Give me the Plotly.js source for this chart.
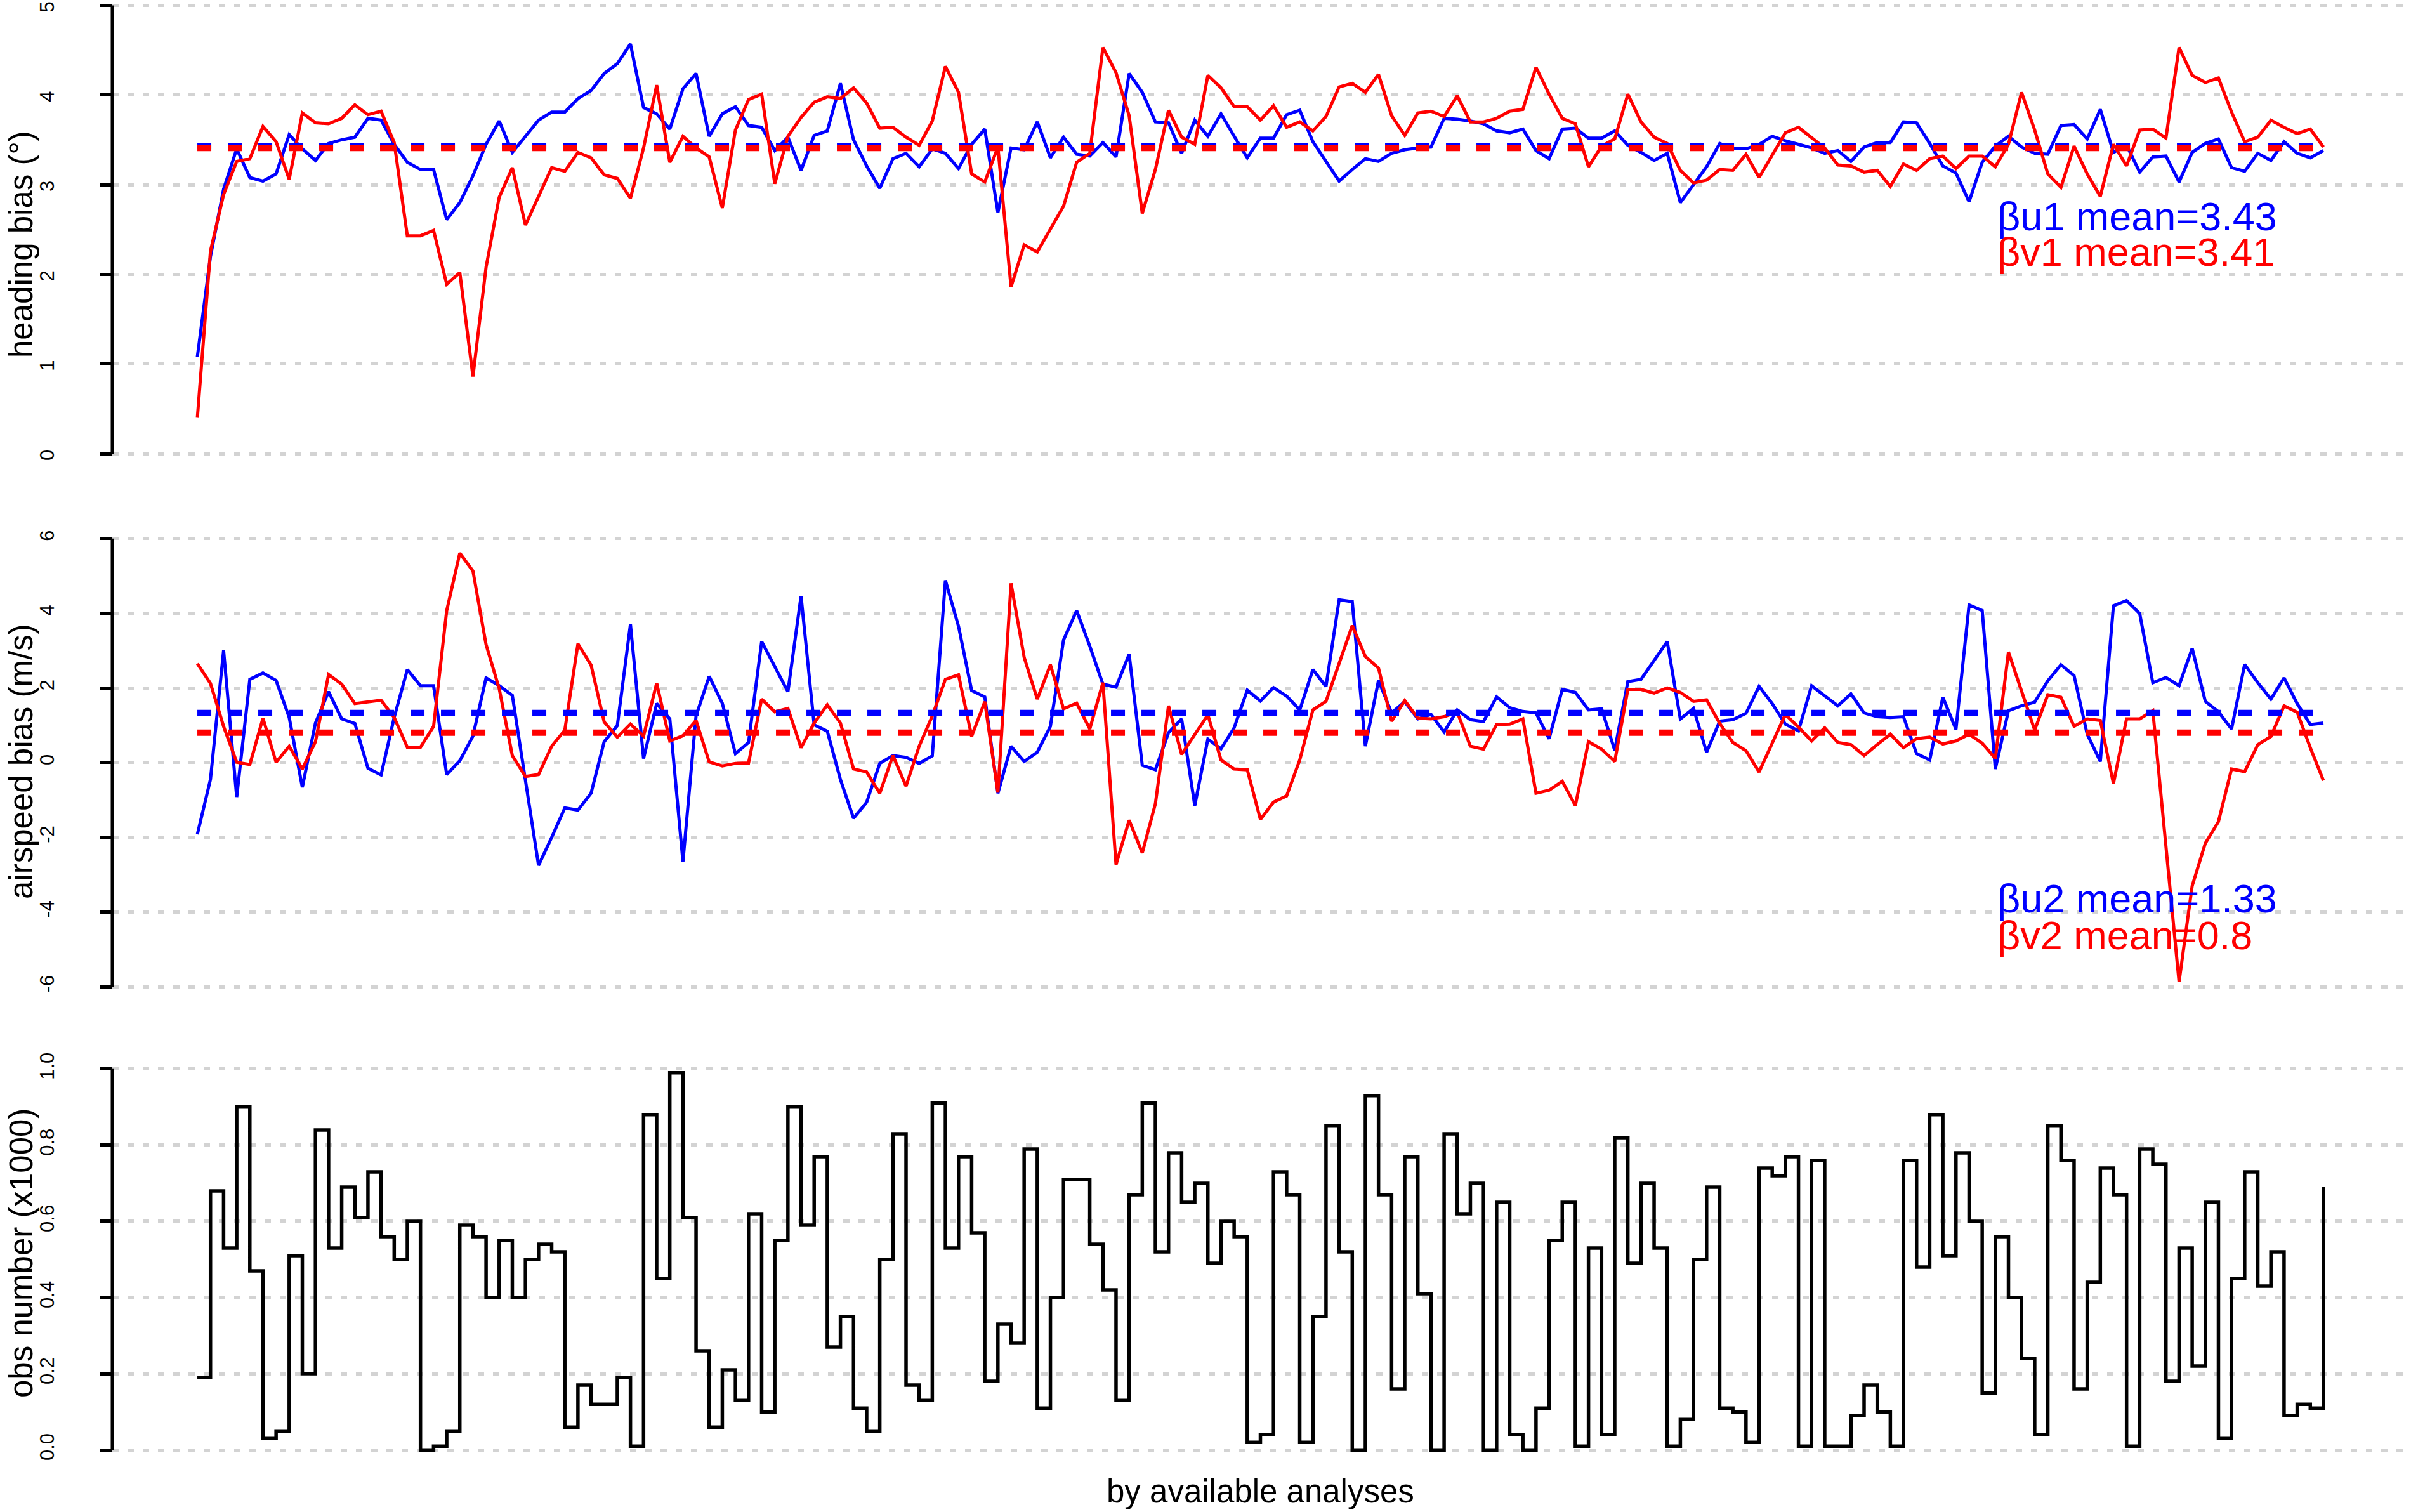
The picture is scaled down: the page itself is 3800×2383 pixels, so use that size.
<!DOCTYPE html>
<html>
<head>
<meta charset="utf-8">
<script src="https://cdn.plot.ly/plotly-3.0.1.min.js"></script>
<style>
  html, body { margin: 0; padding: 0; background: #fff; }
  #chart { width: 3800px; height: 2383px; }
</style>
</head>
<body>
<div id="chart"></div>
<script>
// heading bias (deg), one value per analysis
const hdgU = [1.08, 2.20, 2.95, 3.40, 3.08, 3.04, 3.12, 3.56, 3.40, 3.27, 3.46, 3.50, 3.53, 3.74, 3.72, 3.45, 3.25, 3.17, 3.17, 2.61,
  2.80, 3.10, 3.45, 3.71, 3.36, 3.54, 3.72, 3.81, 3.81, 3.96, 4.05, 4.24, 4.35, 4.57, 3.86, 3.79, 3.62, 4.07, 4.24, 3.54,
  3.79, 3.87, 3.66, 3.64, 3.38, 3.53, 3.16, 3.55, 3.60, 4.13, 3.50, 3.21, 2.96, 3.29, 3.35, 3.20, 3.40, 3.35, 3.18, 3.45,
  3.62, 2.69, 3.41, 3.39, 3.70, 3.30, 3.53, 3.34, 3.32, 3.47, 3.31, 4.24, 4.03, 3.70, 3.69, 3.35, 3.72, 3.54, 3.79, 3.54,
  3.30, 3.52, 3.52, 3.78, 3.83, 3.48, 3.26, 3.04, 3.17, 3.29, 3.26, 3.35, 3.39, 3.41, 3.42, 3.74, 3.73, 3.71, 3.68, 3.60,
  3.58, 3.62, 3.38, 3.29, 3.62, 3.63, 3.52, 3.52, 3.60, 3.44, 3.36, 3.27, 3.35, 2.80, 3.00, 3.20, 3.46, 3.40, 3.40, 3.45,
  3.54, 3.49, 3.45, 3.41, 3.35, 3.38, 3.26, 3.42, 3.47, 3.47, 3.70, 3.69, 3.46, 3.21, 3.13, 2.81, 3.25, 3.43, 3.54, 3.42,
  3.35, 3.34, 3.66, 3.67, 3.51, 3.84, 3.36, 3.44, 3.14, 3.31, 3.32, 3.03, 3.36, 3.46, 3.51, 3.19, 3.15, 3.35, 3.27, 3.48,
  3.35, 3.30, 3.38];
const hdgV = [0.40, 2.26, 2.89, 3.26, 3.29, 3.65, 3.48, 3.06, 3.80, 3.69, 3.68, 3.74, 3.89, 3.78, 3.82, 3.47, 2.43, 2.43, 2.49, 1.89,
  2.02, 0.86, 2.08, 2.86, 3.19, 2.55, 2.87, 3.19, 3.15, 3.36, 3.30, 3.11, 3.07, 2.85, 3.41, 4.11, 3.25, 3.54, 3.41, 3.31,
  2.74, 3.61, 3.95, 4.01, 3.01, 3.54, 3.75, 3.92, 3.98, 3.96, 4.08, 3.91, 3.63, 3.64, 3.53, 3.44, 3.71, 4.32, 4.03, 3.12,
  3.03, 3.42, 1.86, 2.33, 2.25, 2.51, 2.76, 3.25, 3.35, 4.53, 4.25, 3.77, 2.68, 3.17, 3.83, 3.53, 3.45, 4.22, 4.08, 3.87,
  3.87, 3.72, 3.88, 3.64, 3.70, 3.60, 3.76, 4.09, 4.13, 4.03, 4.23, 3.77, 3.55, 3.80, 3.82, 3.76, 3.99, 3.70, 3.70, 3.74,
  3.82, 3.84, 4.31, 4.01, 3.74, 3.68, 3.20, 3.43, 3.51, 4.01, 3.70, 3.53, 3.46, 3.16, 3.02, 3.05, 3.17, 3.16, 3.34, 3.08,
  3.33, 3.58, 3.64, 3.53, 3.41, 3.22, 3.21, 3.14, 3.16, 2.98, 3.23, 3.16, 3.29, 3.32, 3.18, 3.32, 3.32, 3.20, 3.45, 4.03,
  3.61, 3.12, 2.97, 3.43, 3.12, 2.87, 3.45, 3.21, 3.61, 3.62, 3.52, 4.53, 4.22, 4.14, 4.19, 3.81, 3.48, 3.53, 3.72, 3.64,
  3.57, 3.62, 3.42];

// airspeed bias (m/s)
const spdU = [-1.92, -0.45, 3.00, -0.92, 2.23, 2.40, 2.20, 1.21, -0.66, 1.06, 1.90, 1.17, 1.05, -0.15, -0.33, 1.21, 2.49, 2.06, 2.06, -0.32,
  0.05, 0.71, 2.27, 2.06, 1.80, -0.50, -2.75, -2.00, -1.21, -1.27, -0.82, 0.56, 0.99, 3.70, 0.11, 1.58, 1.17, -2.65, 1.25, 2.31,
  1.59, 0.24, 0.54, 3.24, 2.55, 1.90, 4.46, 1.01, 0.84, -0.45, -1.49, -1.06, -0.02, 0.19, 0.14, -0.02, 0.18, 4.88, 3.65, 1.93,
  1.76, -0.82, 0.44, 0.03, 0.28, 0.97, 3.28, 4.07, 3.12, 2.10, 2.02, 2.90, -0.07, -0.19, 0.80, 1.17, -1.15, 0.63, 0.37, 0.93,
  1.94, 1.65, 2.01, 1.78, 1.41, 2.49, 2.04, 4.36, 4.31, 0.44, 2.20, 1.33, 1.63, 1.17, 1.29, 0.82, 1.41, 1.15, 1.10, 1.76,
  1.47, 1.37, 1.33, 0.64, 1.96, 1.88, 1.41, 1.44, 0.33, 2.17, 2.23, 2.74, 3.24, 1.17, 1.45, 0.28, 1.11, 1.15, 1.32, 2.04,
  1.58, 1.03, 0.85, 2.06, 1.78, 1.52, 1.84, 1.33, 1.23, 1.21, 1.23, 0.24, 0.07, 1.75, 0.89, 4.22, 4.07, -0.17, 1.39, 1.52,
  1.62, 2.19, 2.62, 2.33, 0.76, 0.03, 4.20, 4.34, 3.99, 2.14, 2.28, 2.06, 3.06, 1.64, 1.36, 0.90, 2.63, 2.14, 1.70, 2.27,
  1.58, 1.02, 1.06];
const spdV = [2.65, 2.12, 0.97, 0.01, -0.05, 1.19, 0.01, 0.44, -0.17, 0.56, 2.36, 2.10, 1.58, 1.63, 1.67, 1.21, 0.41, 0.41, 0.97, 4.07,
  5.61, 5.13, 3.16, 1.98, 0.19, -0.37, -0.32, 0.44, 0.87, 3.18, 2.61, 1.09, 0.68, 1.03, 0.71, 2.13, 0.58, 0.72, 1.13, 0.02,
  -0.09, -0.02, -0.01, 1.70, 1.36, 1.45, 0.40, 1.06, 1.55, 1.06, -0.17, -0.25, -0.82, 0.19, -0.63, 0.44, 1.25, 2.23, 2.35, 0.70,
  1.63, -0.80, 4.80, 2.82, 1.70, 2.62, 1.44, 1.59, 0.90, 2.14, -2.73, -1.54, -2.42, -1.10, 1.52, 0.22, 0.76, 1.28, 0.07, -0.17,
  -0.19, -1.52, -1.06, -0.89, 0.07, 1.41, 1.64, 2.66, 3.67, 2.84, 2.53, 1.11, 1.66, 1.19, 1.17, 1.23, 1.35, 0.44, 0.36, 1.02,
  1.03, 1.17, -0.82, -0.74, -0.50, -1.15, 0.56, 0.36, 0.03, 1.96, 1.96, 1.86, 2.00, 1.88, 1.64, 1.68, 1.05, 0.54, 0.32, -0.25,
  0.52, 1.29, 0.95, 0.58, 0.93, 0.54, 0.48, 0.19, 0.48, 0.76, 0.40, 0.64, 0.68, 0.50, 0.58, 0.76, 0.52, 0.11, 2.96, 1.90,
  0.87, 1.82, 1.75, 0.97, 1.17, 1.13, -0.56, 1.17, 1.17, 1.39, -2.30, -5.87, -3.30, -2.16, -1.58, -0.17, -0.24, 0.48, 0.70, 1.52,
  1.35, 0.40, -0.48];

// obs number (x1000)
const obsN = [0.19, 0.68, 0.53, 0.90, 0.47, 0.03, 0.05, 0.51, 0.20, 0.84, 0.53, 0.69, 0.61, 0.73, 0.56, 0.50, 0.60, 0.00, 0.01, 0.05,
  0.59, 0.56, 0.40, 0.55, 0.40, 0.50, 0.54, 0.52, 0.06, 0.17, 0.12, 0.12, 0.19, 0.01, 0.88, 0.45, 0.99, 0.61, 0.26, 0.06,
  0.21, 0.13, 0.62, 0.10, 0.55, 0.90, 0.59, 0.77, 0.27, 0.35, 0.11, 0.05, 0.50, 0.83, 0.17, 0.13, 0.91, 0.53, 0.77, 0.57,
  0.18, 0.33, 0.28, 0.79, 0.11, 0.40, 0.71, 0.71, 0.54, 0.42, 0.13, 0.67, 0.91, 0.52, 0.78, 0.65, 0.70, 0.49, 0.60, 0.56,
  0.02, 0.04, 0.73, 0.67, 0.02, 0.35, 0.85, 0.52, 0.00, 0.93, 0.67, 0.16, 0.77, 0.41, 0.00, 0.83, 0.62, 0.70, 0.00, 0.65,
  0.04, 0.00, 0.11, 0.55, 0.65, 0.01, 0.53, 0.04, 0.82, 0.49, 0.70, 0.53, 0.01, 0.08, 0.50, 0.69, 0.11, 0.10, 0.02, 0.74,
  0.72, 0.77, 0.01, 0.76, 0.01, 0.01, 0.09, 0.17, 0.10, 0.01, 0.76, 0.48, 0.88, 0.51, 0.78, 0.60, 0.15, 0.56, 0.40, 0.24,
  0.04, 0.85, 0.76, 0.16, 0.44, 0.74, 0.67, 0.01, 0.79, 0.75, 0.18, 0.53, 0.22, 0.65, 0.03, 0.45, 0.73, 0.43, 0.52, 0.09,
  0.12, 0.11, 0.69];

const meanU1 = 3.43, meanV1 = 3.41, meanU2 = 1.33, meanV2 = 0.8;

const hdgTicks = [0, 1, 2, 3, 4, 5];
const spdTicks = [-6, -4, -2, 0, 2, 4, 6];
const spdTickText = ["-6", "-4", "-2", "0", "2", "4", "6"];
const obsTicks = [0, 0.2, 0.4, 0.6, 0.8, 1.0];
const obsTickText = ["0.0", "0.2", "0.4", "0.6", "0.8", "1.0"];

const idx = hdgU.map((_, i) => i + 1);
const xEnds = [idx[0], idx[idx.length - 1]];

const FONT = "Liberation Sans, Arial, sans-serif";
const H = 2383;

const lineTrace = (y, color, yax) => ({
    x: idx, y: y, yaxis: yax, type: "scatter", mode: "lines",
    line: {color: color, width: 5}, hoverinfo: "skip"
});

const meanTrace = (m, color, yax) => ({
    x: xEnds, y: [m, m], yaxis: yax, type: "scatter", mode: "lines",
    line: {color: color, width: 10, dash: "22px,26px"}, hoverinfo: "skip"
});

const traces = [
    lineTrace(hdgU, "blue", "y"),
    lineTrace(hdgV, "red", "y"),
    meanTrace(meanU1, "blue", "y"),
    meanTrace(meanV1, "red", "y"),
    lineTrace(spdU, "blue", "y2"),
    lineTrace(spdV, "red", "y2"),
    meanTrace(meanU2, "blue", "y2"),
    meanTrace(meanV2, "red", "y2"),
    {x: idx, y: obsN, yaxis: "y3", type: "scatter", mode: "lines",
     line: {color: "black", width: 5.5, shape: "hv"}, hoverinfo: "skip"}
];

// pixel top/bottom of each panel -> domain fraction
const dom = (top, bottom) => [1 - bottom / H, 1 - top / H];

const yAxisBase = (tickvals, ticktext) => ({
    anchor: "x",
    tickvals: tickvals, ticktext: ticktext,
    ticks: "outside", ticklen: 19, tickwidth: 5, tickcolor: "black",
    tickangle: -90, ticklabelstandoff: 60, ticklabeloverflow: "allow",
    tickfont: {family: FONT, size: 31, color: "black"},
    showline: false, zeroline: false,
    showgrid: true, gridcolor: "#d3d3d3", gridwidth: 5, griddash: "10px,14px"
});

// y axis titles sit just inside the left edge
const titleX = (33 - 177) / 3619;

const layout = {
    width: 3800, height: H,
    margin: {l: 177, r: 4, t: 0, b: 0},
    paper_bgcolor: "white", plot_bgcolor: "white",
    showlegend: false,
    font: {family: FONT, color: "black"},
    xaxis: {range: [-5.48, 169.48], showgrid: false, zeroline: false, showline: false,
            showticklabels: false, ticks: ""},
    // top label "5" sits at the very top edge, nudge labels down a touch
    yaxis: Object.assign(yAxisBase(hdgTicks, hdgTicks.map(String)),
            {domain: dom(0, 760), range: [-0.318, 5.06], ticklabelshift: 7}),
    yaxis2: Object.assign(yAxisBase(spdTicks, spdTickText),
            {domain: dom(800, 1600), range: [-6.761, 6.827]}),
    yaxis3: Object.assign(yAxisBase(obsTicks, obsTickText),
            {domain: dom(1650, 2320), range: [-0.058, 1.058]}),
    shapes: [
        {type: "line", xref: "paper", x0: 0, x1: 0, yref: "y", y0: 0, y1: 5, line: {color: "black", width: 5}},
        {type: "line", xref: "paper", x0: 0, x1: 0, yref: "y2", y0: -6, y1: 6, line: {color: "black", width: 5}},
        {type: "line", xref: "paper", x0: 0, x1: 0, yref: "y3", y0: 0, y1: 1, line: {color: "black", width: 5}}
    ],
    annotations: [
        {text: "heading bias (°)", xref: "paper", yref: "paper", x: titleX, y: 1 - 385 / H, borderpad: 0,
         textangle: -90, showarrow: false, font: {size: 51}, xanchor: "center", yanchor: "middle"},
        {text: "airspeed bias (m/s)", xref: "paper", yref: "paper", x: titleX, y: 1 - 1200 / H, borderpad: 0,
         textangle: -90, showarrow: false, font: {size: 51}, xanchor: "center", yanchor: "middle"},
        {text: "obs number (x1000)", xref: "paper", yref: "paper", x: titleX, y: 1 - 1975 / H, borderpad: 0,
         textangle: -90, showarrow: false, font: {size: 51}, xanchor: "center", yanchor: "middle"},
        {text: "by available analyses", xref: "paper", yref: "paper", x: 0.5, y: 1 - 2350 / H,
         showarrow: false, font: {size: 51}, xanchor: "center", yanchor: "middle"},
        {text: "βu1 mean=" + meanU1, xref: "x", yref: "y", x: 138.1, y: 2.65, borderpad: 0,
         showarrow: false, font: {size: 63, color: "blue"}, xanchor: "left", yanchor: "middle"},
        {text: "βv1 mean=" + meanV1, xref: "x", yref: "y", x: 138.1, y: 2.25, borderpad: 0,
         showarrow: false, font: {size: 63, color: "red"}, xanchor: "left", yanchor: "middle"},
        {text: "βu2 mean=" + meanU2, xref: "x", yref: "y2", x: 138.1, y: -3.64, borderpad: 0,
         showarrow: false, font: {size: 63, color: "blue"}, xanchor: "left", yanchor: "middle"},
        {text: "βv2 mean=" + meanV2, xref: "x", yref: "y2", x: 138.1, y: -4.62, borderpad: 0,
         showarrow: false, font: {size: 63, color: "red"}, xanchor: "left", yanchor: "middle"}
    ]
};

Plotly.newPlot("chart", traces, layout, {displayModeBar: false, staticPlot: true});
</script>
</body>
</html>
